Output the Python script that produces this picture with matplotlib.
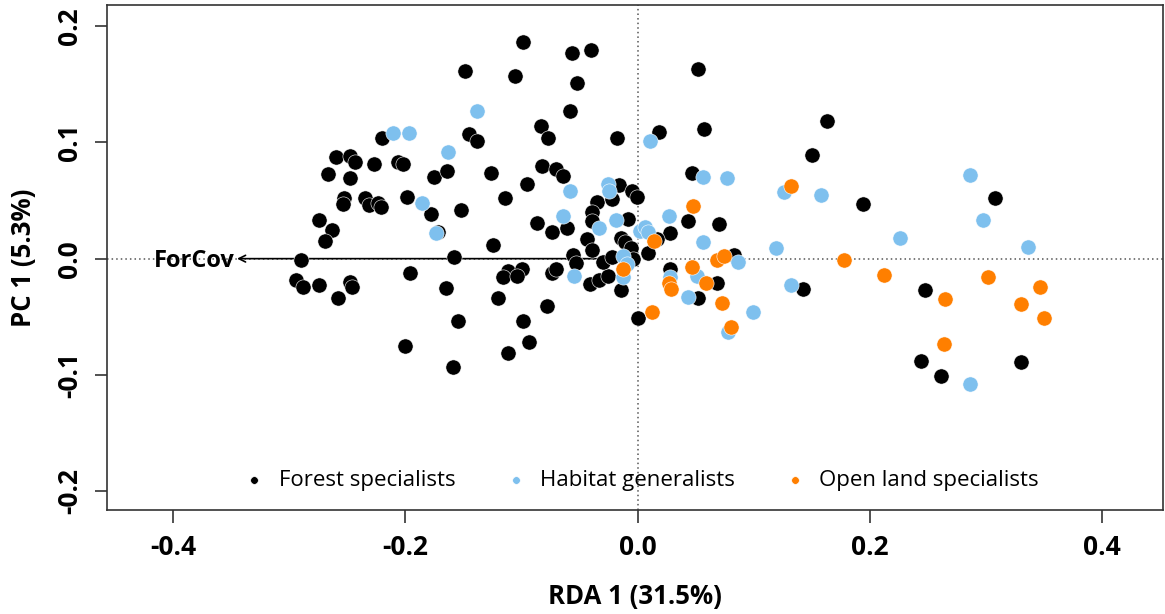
import matplotlib
matplotlib.use("Agg")
import matplotlib.pyplot as plt

plt.rcParams['font.family'] = ['Open Sans', 'DejaVu Sans']
plt.rcParams['axes.unicode_minus'] = False

# Site scores on the constrained (RDA 1) and first unconstrained (PC 1) axes
forest_x = [-0.099, -0.057, -0.040, -0.149, -0.106, -0.052, 0.052, -0.058, 0.057, 0.163,
            0.018, -0.018, -0.083, -0.077, -0.145, -0.138, 0.150, -0.220, -0.206, -0.202,
            -0.260, -0.248, -0.243, -0.227, -0.267, -0.248, -0.253, -0.254, -0.235, -0.231,
            -0.224, -0.221, -0.274, -0.263, -0.269, -0.199, -0.175, -0.164, -0.178, -0.172,
            -0.126, -0.095, -0.082, -0.070, -0.064, -0.152, -0.114, -0.087, -0.074, -0.061,
            -0.125, -0.035, -0.039, -0.039, -0.022, -0.016, -0.005, -0.001, -0.008, -0.014,
            -0.011, -0.006, -0.004, 0.009, -0.044, -0.039, -0.056, -0.053, 0.047, 0.043,
            0.028, 0.017, 0.070, 0.083, 0.194, 0.308, 0.142, -0.290, -0.294, -0.288,
            -0.274, -0.248, -0.246, -0.258, -0.196, -0.158, -0.165, -0.155, -0.159, -0.200,
            -0.120, -0.112, -0.100, -0.116, -0.104, -0.112, -0.099, -0.094, -0.078, -0.074,
            -0.070, -0.041, -0.033, -0.026, -0.030, -0.022, -0.014, 0.000, 0.028, 0.068,
            0.052, 0.247, 0.244, 0.261, 0.330]
forest_y = [0.186, 0.177, 0.179, 0.161, 0.157, 0.151, 0.163, 0.127, 0.111, 0.118,
            0.109, 0.104, 0.114, 0.104, 0.107, 0.101, 0.089, 0.104, 0.083, 0.081,
            0.087, 0.088, 0.083, 0.081, 0.073, 0.069, 0.052, 0.047, 0.052, 0.046,
            0.048, 0.044, 0.033, 0.025, 0.015, 0.053, 0.070, 0.075, 0.038, 0.023,
            0.074, 0.064, 0.080, 0.077, 0.071, 0.042, 0.052, 0.031, 0.023, 0.026,
            0.012, 0.049, 0.040, 0.032, 0.051, 0.063, 0.058, 0.053, 0.034, 0.018,
            0.014, 0.009, 0.000, 0.005, 0.017, 0.007, 0.003, -0.004, 0.074, 0.032,
            0.022, 0.017, 0.030, 0.003, 0.047, 0.052, -0.026, -0.001, -0.018, -0.024,
            -0.023, -0.020, -0.024, -0.034, -0.012, 0.001, -0.025, -0.054, -0.093, -0.075,
            -0.034, -0.011, -0.009, -0.016, -0.015, -0.081, -0.054, -0.072, -0.041, -0.012,
            -0.009, -0.022, -0.018, -0.015, -0.003, 0.001, -0.027, -0.051, -0.009, -0.021,
            -0.034, -0.027, -0.088, -0.101, -0.089]

generalist_x = [-0.211, -0.197, -0.138, -0.163, -0.186, -0.174, -0.058, -0.064, -0.055, -0.026,
                -0.025, -0.019, -0.033, -0.013, -0.009, -0.013, 0.002, 0.006, 0.009, 0.011,
                0.027, 0.056, 0.077, 0.056, 0.028, 0.051, 0.043, 0.086, 0.119, 0.132,
                0.099, 0.078, 0.126, 0.158, 0.286, 0.297, 0.226, 0.336, 0.286]
generalist_y = [0.108, 0.108, 0.127, 0.092, 0.048, 0.022, 0.058, 0.037, -0.015, 0.064,
                0.058, 0.033, 0.026, 0.002, -0.005, -0.016, 0.024, 0.027, 0.023, 0.101,
                0.037, 0.070, 0.069, 0.014, -0.016, -0.015, -0.033, -0.003, 0.009, -0.023,
                -0.046, -0.063, 0.057, 0.055, 0.072, 0.033, 0.018, 0.010, -0.108]

open_x = [0.132, 0.048, 0.014, -0.013, 0.047, 0.068, 0.074, 0.027, 0.029, 0.059,
          0.073, 0.012, 0.080, 0.178, 0.212, 0.265, 0.302, 0.330, 0.264, 0.346, 0.350]
open_y = [0.062, 0.045, 0.015, -0.009, -0.007, -0.001, 0.002, -0.021, -0.026, -0.021,
          -0.038, -0.046, -0.059, -0.001, -0.014, -0.035, -0.016, -0.039, -0.073, -0.024,
          -0.051]

# Environmental vector (forest cover) on the biplot
forcov_x = -0.345
forcov_y = 0.0

groups = ["Forest specialists", "Habitat generalists", "Open land specialists"]
colors = ["#000000", "#7EC0EE", "#FF7F00"]

fig = plt.figure(figsize=(11.65, 6.14), dpi=100)
ax = fig.add_axes([0.0918, 0.1694, 0.9062, 0.8225])

ax.axhline(0, color="#555555", lw=1.1, ls=(0, (1, 2)), zorder=1)
ax.axvline(0, color="#555555", lw=1.1, ls=(0, (1, 2)), zorder=1)

for xs, ys, c, lab in zip([forest_x, generalist_x, open_x],
                          [forest_y, generalist_y, open_y], colors, groups):
    ax.scatter(xs, ys, s=120, color=c, edgecolors="white", linewidths=0.4,
               zorder=3, label=lab)

ax.annotate("", xy=(forcov_x, forcov_y), xytext=(0, 0),
            arrowprops=dict(arrowstyle="->", lw=1.2, color="black",
                            shrinkA=0, shrinkB=0, mutation_scale=12), zorder=2)
ax.text(forcov_x - 0.002, forcov_y - 0.002, "ForCov", ha="right", va="center",
        fontsize=17, fontweight="bold", zorder=4)

ax.set_xlim(-0.457, 0.452)
ax.set_ylim(-0.216, 0.218)
ax.set_xticks([-0.4, -0.2, 0.0, 0.2, 0.4])
ax.set_xticklabels(["-0.4", "-0.2", "0.0", "0.2", "0.4"])
ax.set_yticks([-0.2, -0.1, 0.0, 0.1, 0.2])
ax.set_yticklabels(["-0.2", "-0.1", "0.0", "0.1", "0.2"], rotation=90, va="center")
ax.tick_params(axis="both", direction="out", length=9, width=1.2, labelsize=19,
               pad=8, color="#333333")
for lab in ax.get_xticklabels() + ax.get_yticklabels():
    lab.set_fontweight("bold")
for sp in ax.spines.values():
    sp.set_linewidth(1.2)
    sp.set_color("#333333")

ax.set_xlabel("RDA 1 (31.5%)", fontsize=18.5, fontweight="bold", labelpad=16)
ax.set_ylabel("PC 1 (5.3%)", fontsize=18.5, fontweight="bold", labelpad=14)

leg = ax.legend(loc="center", bbox_to_anchor=(0.506, 0.059), ncol=3, frameon=False,
                fontsize=16, markerscale=0.5, handlelength=1.0, handletextpad=0.6,
                columnspacing=2.2, scatterpoints=1)

fig.savefig("out.png", dpi=100)
